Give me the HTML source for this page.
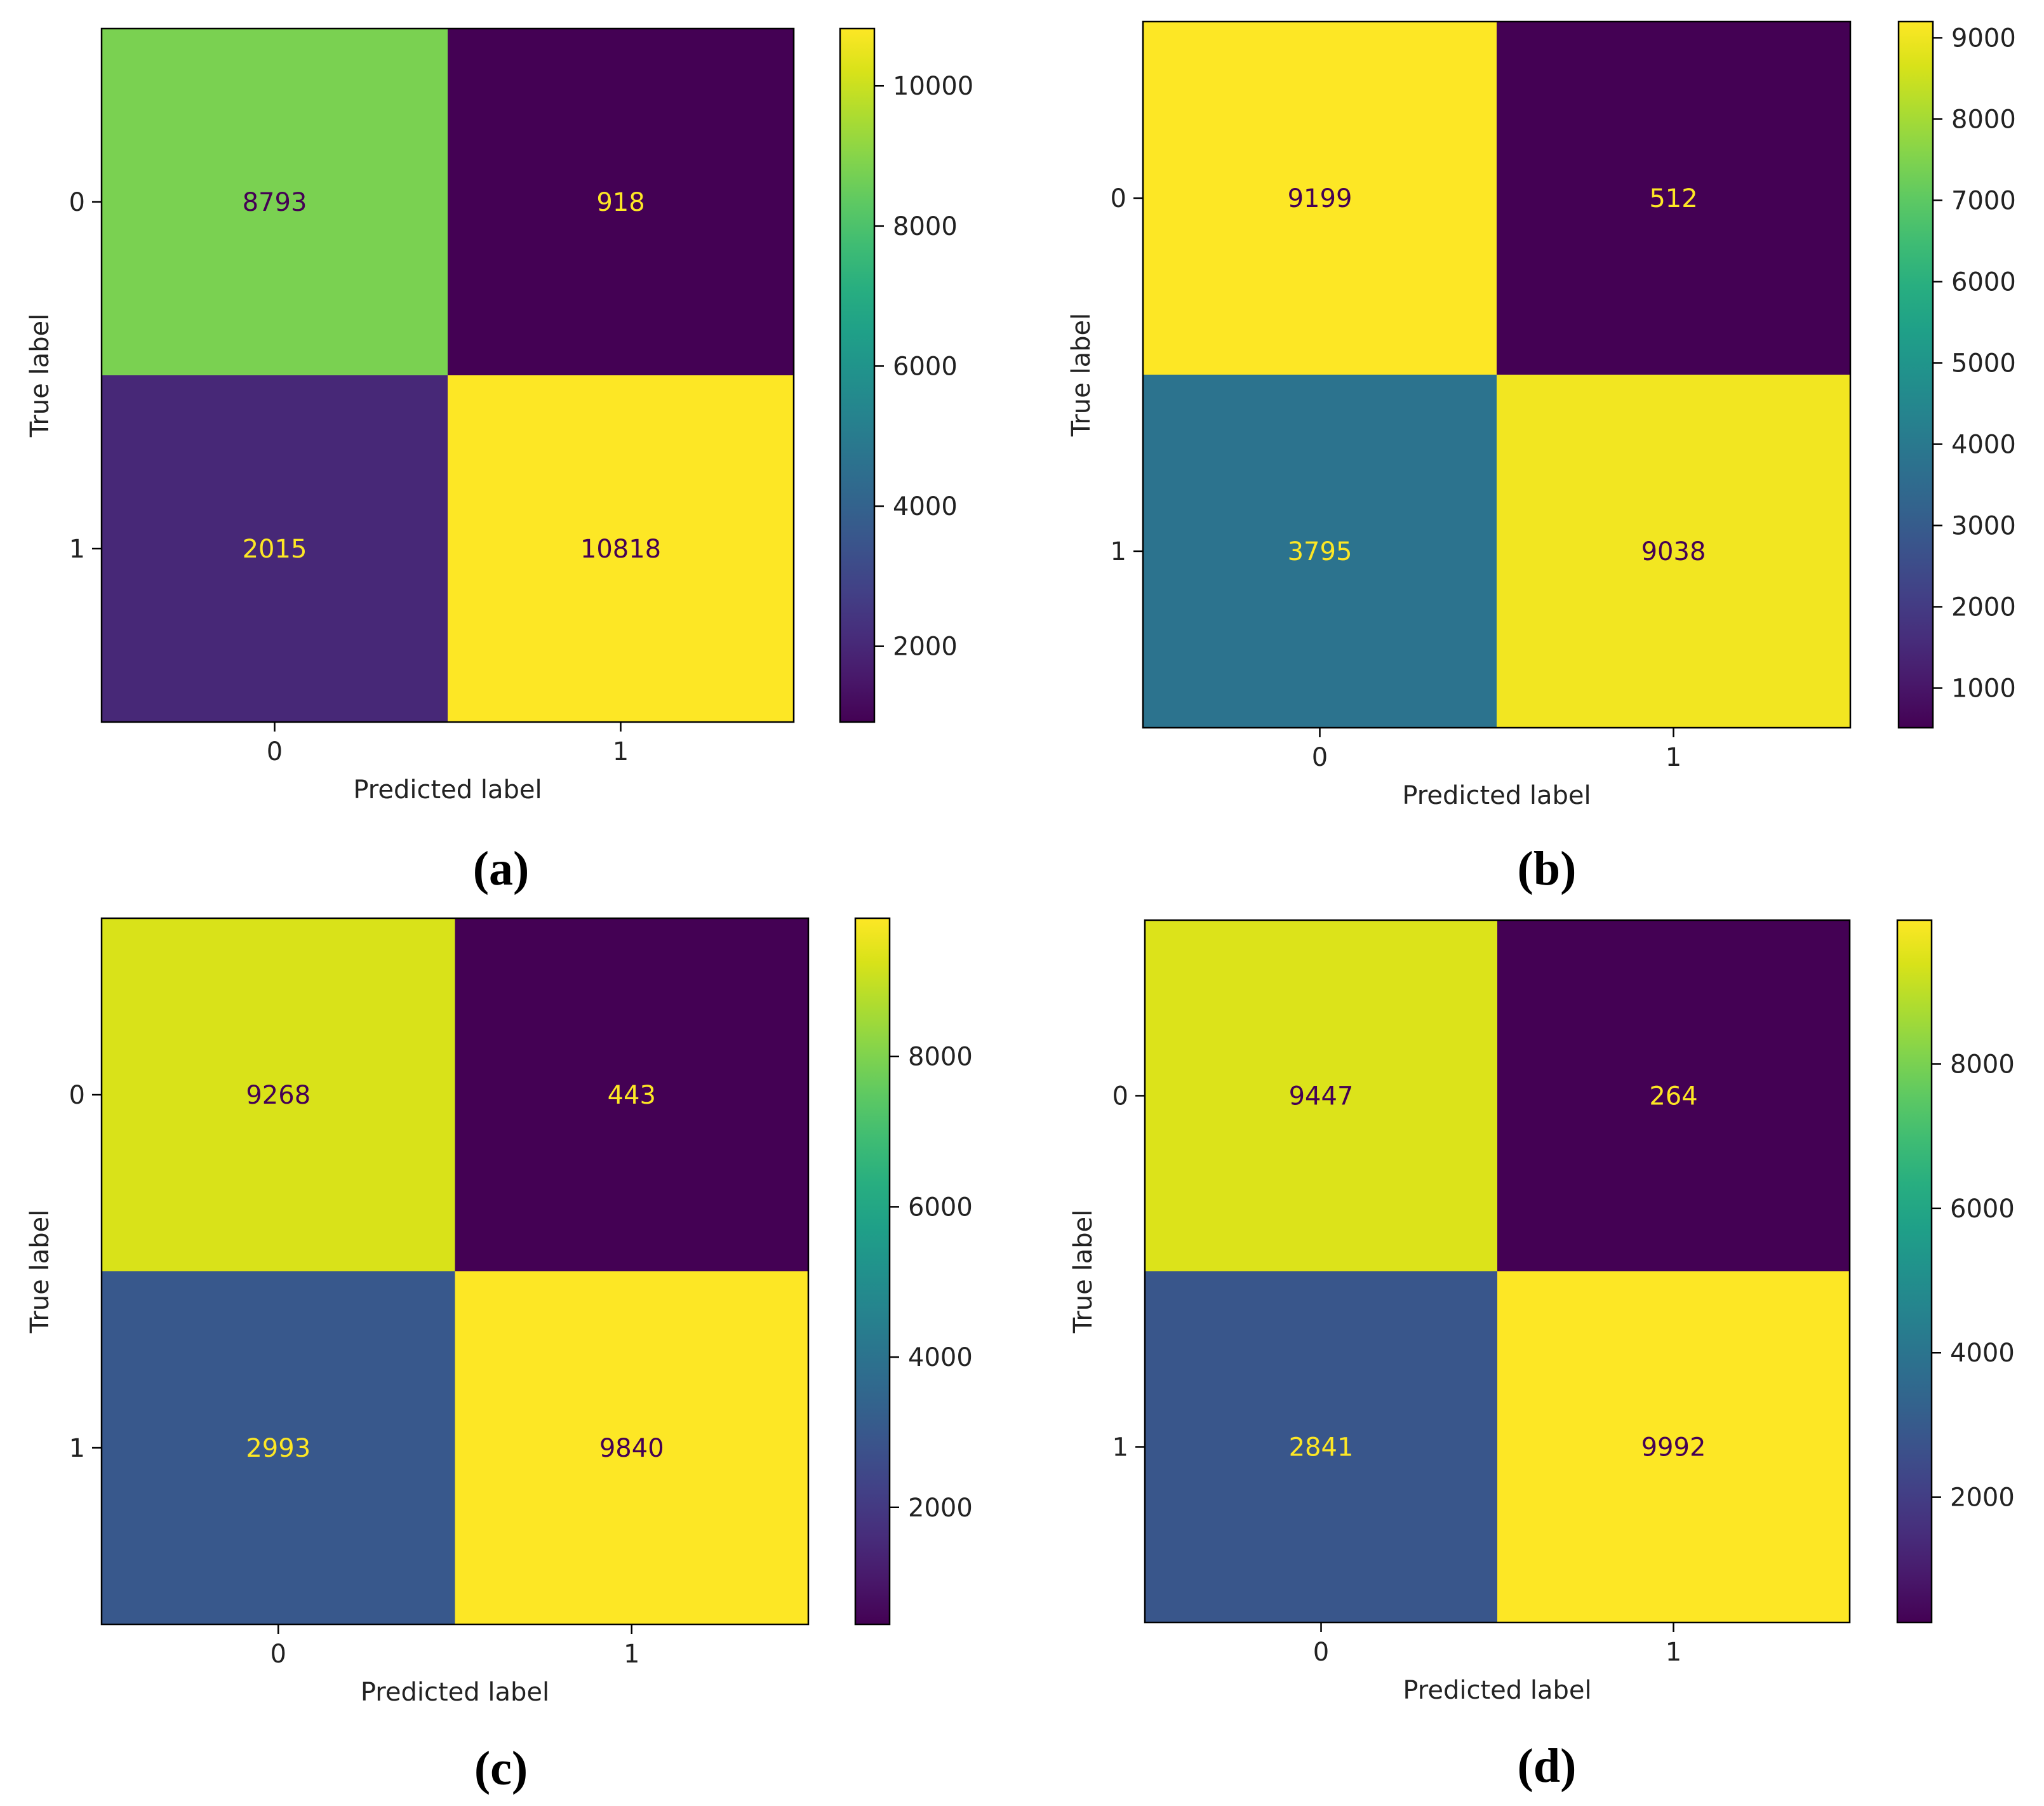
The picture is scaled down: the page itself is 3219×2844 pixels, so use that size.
<!DOCTYPE html>
<html><head><meta charset="utf-8">
<style>
html,body{margin:0;padding:0;background:#fff;}
svg{display:block;}
text{font-family:"DejaVu Sans","Liberation Sans",sans-serif;}
.cap{font-family:"Liberation Serif",serif;font-weight:bold;}
</style></head>
<body>
<svg id="fig" width="3219" height="2844" viewBox="0 0 3219 2844" xmlns="http://www.w3.org/2000/svg">
<defs>
<linearGradient id="viridis" x1="0" y1="1" x2="0" y2="0">
<stop offset="0" stop-color="#440154"/>
<stop offset="0.0625" stop-color="#48186a"/>
<stop offset="0.125" stop-color="#472d7b"/>
<stop offset="0.1875" stop-color="#424086"/>
<stop offset="0.25" stop-color="#3b528b"/>
<stop offset="0.3125" stop-color="#33638d"/>
<stop offset="0.375" stop-color="#2c728e"/>
<stop offset="0.4375" stop-color="#26828e"/>
<stop offset="0.5" stop-color="#21918c"/>
<stop offset="0.5625" stop-color="#1fa088"/>
<stop offset="0.625" stop-color="#28ae80"/>
<stop offset="0.6875" stop-color="#3fbc73"/>
<stop offset="0.75" stop-color="#5ec962"/>
<stop offset="0.8125" stop-color="#84d44b"/>
<stop offset="0.875" stop-color="#addc30"/>
<stop offset="0.9375" stop-color="#d8e219"/>
<stop offset="1" stop-color="#fde725"/>
</linearGradient>
</defs>
</svg>
<script>
// Data: confusion matrices (rows = true label, cols = predicted label)
const classLabels = ["0", "1"];
const matrixA = [[8793, 918], [2015, 10818]];
const matrixB = [[9199, 512], [3795, 9038]];
const matrixC = [[9268, 443], [2993, 9840]];
const matrixD = [[9447, 264], [2841, 9992]];
const colorbarStepA = 2000;
const colorbarStepB = 1000;
const colorbarStepC = 2000;
const colorbarStepD = 2000;
const captions = ["(a)", "(b)", "(c)", "(d)"];

const NS = "http://www.w3.org/2000/svg";
const svg = document.getElementById("fig");
const VIRHEX = ["#440154","#48186a","#472d7b","#424086","#3b528b","#33638d","#2c728e","#26828e","#21918c","#1fa088","#28ae80","#3fbc73","#5ec962","#84d44b","#addc30","#d8e219","#fde725"];
const VIR = VIRHEX.map(h => [parseInt(h.substr(1,2),16), parseInt(h.substr(3,2),16), parseInt(h.substr(5,2),16)]);
function viridis(t){
  t = Math.max(0, Math.min(1, t));
  const s = t * (VIR.length - 1);
  const i = Math.min(Math.floor(s), VIR.length - 2);
  const f = s - i;
  const c = VIR[i].map((v, k) => Math.round(v + (VIR[i+1][k] - v) * f));
  return "rgb(" + c.join(",") + ")";
}
function mk(tag, attrs, parent, txt){
  const e = document.createElementNS(NS, tag);
  for (const k in attrs) e.setAttribute(k, attrs[k]);
  if (txt !== undefined) e.textContent = txt;
  parent.appendChild(e);
  return e;
}

const layouts = [
  {ax:[160,45,1250,1137], cb:[1323,1377], capX:789, capY:1393, m:matrixA, step:colorbarStepA},
  {ax:[1800,34,2914,1146], cb:[2990,3044], capX:2436, capY:1393, m:matrixB, step:colorbarStepB},
  {ax:[160,1446,1273,2558], cb:[1347,1401], capX:789, capY:2810, m:matrixC, step:colorbarStepC},
  {ax:[1803,1449,2913,2555], cb:[2988,3042], capX:2436, capY:2806, m:matrixD, step:colorbarStepD}
];

layouts.forEach((L, pi) => {
  const g = mk("g", {}, svg);
  
  
  const [x0, y0, x1, y1] = L.ax;
  const n = classLabels.length;
  const flat = L.m.flat();
  const vmin = Math.min(...flat), vmax = Math.max(...flat);
  const cw = (x1 - x0) / n, ch = (y1 - y0) / n;
  const xScale = j => x0 + cw * (j + 0.5);
  const yScale = i => y0 + ch * (i + 0.5);
  const norm = v => (v - vmin) / (vmax - vmin);
  const thresh = (vmax + vmin) / 2;
  for (let i = 0; i < n; i++) for (let j = 0; j < n; j++) {
    const v = L.m[i][j];
    const r = mk("rect", {x: xScale(j) - cw/2, y: yScale(i) - ch/2, width: cw + 0.5, height: ch + 0.5, fill: viridis(norm(v))}, g);
    
    
    const t = mk("text", {x: xScale(j), y: yScale(i) + 14, "text-anchor": "middle", "font-size": 40, fill: v < thresh ? "#fde725" : "#440154"}, g, String(v));
    
    
  }
  const frame = mk("rect", {x: x0, y: y0, width: x1 - x0, height: y1 - y0, fill: "none", stroke: "#000", "stroke-width": 2.5}, g);
  
  
  for (let k = 0; k < n; k++) {
    mk("line", {x1: x0 - 15, x2: x0, y1: yScale(k), y2: yScale(k), stroke: "#000", "stroke-width": 2.5}, g);
    const yl = mk("text", {x: x0 - 26, y: yScale(k) + 14, "text-anchor": "end", "font-size": 40, fill: "#222"}, g, classLabels[k]);
    
    
    mk("line", {x1: xScale(k), x2: xScale(k), y1: y1, y2: y1 + 15, stroke: "#000", "stroke-width": 2.5}, g);
    const xl = mk("text", {x: xScale(k), y: y1 + 60, "text-anchor": "middle", "font-size": 40, fill: "#222"}, g, classLabels[k]);
    
    
  }
  const xt = mk("text", {x: (x0 + x1) / 2, y: y1 + 120, "text-anchor": "middle", "font-size": 40, fill: "#222"}, g, "Predicted label");
  
  
  const ty = (y0 + y1) / 2, tx = x0 - 84;
  const yt = mk("text", {x: tx, y: ty, "text-anchor": "middle", "font-size": 40, fill: "#222", transform: "rotate(-90 " + tx + " " + ty + ")"}, g, "True label");
  
  
  // colorbar
  const [c0, c1] = L.cb;
  const cbScale = v => y1 - (v - vmin) / (vmax - vmin) * (y1 - y0);
  const cb = mk("rect", {x: c0, y: y0, width: c1 - c0, height: y1 - y0, fill: "url(#viridis)", stroke: "#000", "stroke-width": 2.5}, g);
  
  
  for (let v = Math.ceil(vmin / L.step) * L.step; v <= vmax; v += L.step) {
    const yy = cbScale(v);
    mk("line", {x1: c1, x2: c1 + 15, y1: yy, y2: yy, stroke: "#000", "stroke-width": 2.5}, g);
    const cl = mk("text", {x: c1 + 29, y: yy + 14, "font-size": 40, fill: "#222"}, g, String(v));
    
    
  }
  const cap = mk("text", {x: L.capX, y: L.capY, "text-anchor": "middle", "font-size": 76, "class": "cap", fill: "#000"}, g, captions[pi]);
  
  
});
</script>
</body></html>
